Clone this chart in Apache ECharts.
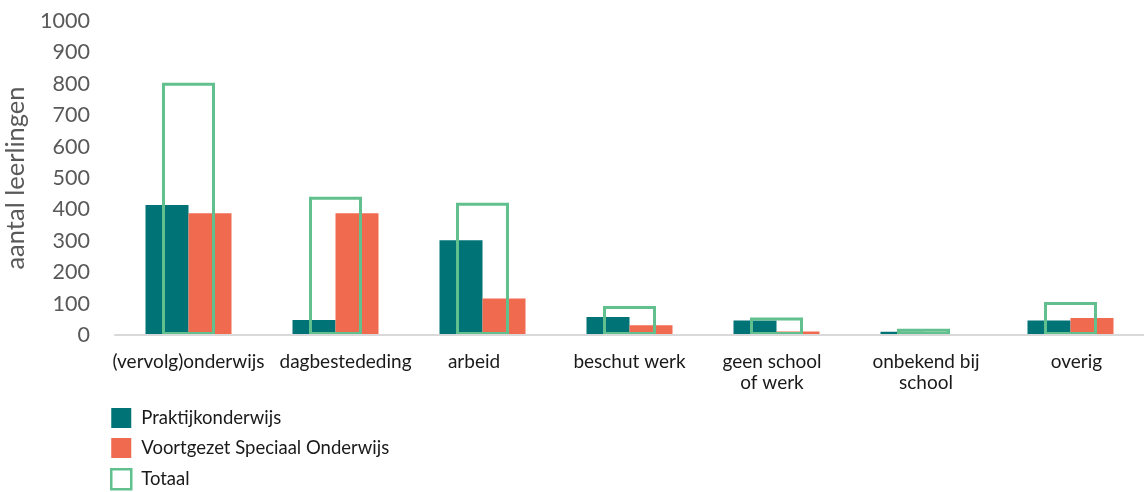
<!DOCTYPE html>
<html><head><meta charset="utf-8">
<script src="https://cdn.jsdelivr.net/npm/echarts@6/dist/echarts.min.js"></script>
<style>html,body{margin:0;padding:0;background:#fff}#c{width:1144px;height:492px}</style>
</head><body><div id="c"></div>
<script>
const categories = ['(vervolg)onderwijs','dagbestededing','arbeid','beschut werk','geen school\nof werk','onbekend bij\nschool','overig'];
const praktijk = [414, 48, 302, 57, 46, 10, 46];
const vso = [388, 388, 116, 31, 11, 3, 54];
const totaal = [803, 440, 421, 92, 56, 20, 105];
const yTicks = [0,100,200,300,400,500,600,700,800,900,1000];

const font = 'Lato, "Open Sans", sans-serif';
// horizontal nudges of category labels (px), to mimic reference label placement
const labelShift = [0, 10, -8.5, 0, -4.5, 2.5, 6];
const catData = categories.map((c, i) => {
  const s = labelShift[i];
  return {value: c, textStyle: {padding: s >= 0 ? [0, 0, 0, 2 * s] : [0, -2 * s, 0, 0]}};
});

const chart = echarts.init(document.getElementById('c'));
chart.setOption({
  animation: false,
  textStyle: {fontFamily: font},
  grid: {left: 115, right: 0, top: 21, bottom: 157, containLabel: false, outerBoundsMode: 'none'},
  legend: {
    orient: 'vertical', left: 110, top: 408, height: 120, itemGap: 10, padding: 0,
    itemWidth: 20, itemHeight: 20,
    textStyle: {fontSize: 18.5, color: '#1a1a1a', fontFamily: font, padding: [0, 0, 0, 5]},
    data: [
      {name: 'Praktijkonderwijs', icon: 'rect'},
      {name: 'Voortgezet Speciaal Onderwijs', icon: 'rect'},
      {name: 'Totaal', icon: 'rect', itemStyle: {color: '#fff', borderColor: '#62C08F', borderWidth: 2.5}}
    ]
  },
  xAxis: [
    {type: 'category', data: catData, z: 5,
     axisLine: {lineStyle: {color: '#D9D9D9', width: 2}},
     axisTick: {show: false},
     axisLabel: {fontSize: 19, color: '#1a1a1a', margin: 16, lineHeight: 21, interval: 0, fontFamily: font}},
    {type: 'category', data: categories, show: false}
  ],
  yAxis: {
    type: 'value', min: 0, max: 1000, interval: 100,
    name: 'aantal leerlingen', nameLocation: 'middle', nameGap: 82, nameRotate: 90,
    nameTextStyle: {fontSize: 25.5, color: '#595959', fontFamily: font},
    axisLine: {show: false}, axisTick: {show: false}, splitLine: {show: false},
    axisLabel: {fontSize: 21.5, color: '#595959', margin: 25, fontFamily: font,
      formatter: v => yTicks.includes(v) ? String(v) : ''}
  },
  series: [
    {name: 'Praktijkonderwijs', type: 'bar', data: praktijk, barWidth: 43, barGap: '0%',
     itemStyle: {color: '#007377'}},
    {name: 'Voortgezet Speciaal Onderwijs', type: 'bar', data: vso, barWidth: 43, barGap: '0%',
     itemStyle: {color: '#F06A50'}},
    {name: 'Totaal', type: 'bar', xAxisIndex: 1, data: totaal, barWidth: 53,
     itemStyle: {color: 'rgba(0,0,0,0)', borderColor: '#62C08F', borderWidth: 3}}
  ]
});
</script></body></html>
